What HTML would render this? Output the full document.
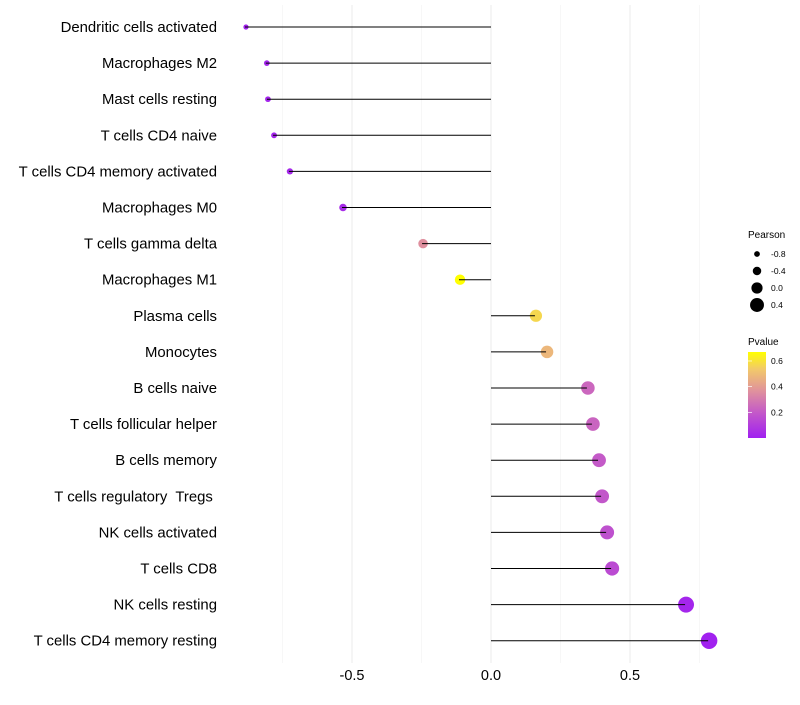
<!DOCTYPE html>
<html><head><meta charset="utf-8"><style>
body{margin:0;background:#fff;}
svg{font-family:"Liberation Sans",sans-serif;}
</style></head><body>
<svg id="chart" width="800" height="700" xmlns="http://www.w3.org/2000/svg">
<rect width="800" height="700" fill="#fff"/>
<g id="grid"></g><g id="marks"></g><g id="ylabels"></g><g id="xticks"></g>
<g id="legend">
<text x="748" y="238" font-size="10" fill="#000">Pearson</text>
<g id="sizeLegend"></g>
<text x="748" y="345" font-size="10" fill="#000">Pvalue</text>
<defs><linearGradient id="pg" x1="0" y1="1" x2="0" y2="0">
<stop offset="0" stop-color="#A020F0"/><stop offset="0.3" stop-color="#C45AC8"/><stop offset="0.55" stop-color="#E0929C"/><stop offset="0.8" stop-color="#F2C96A"/><stop offset="1" stop-color="#FFFF00"/></linearGradient></defs>
<rect x="748" y="352" width="18" height="86" fill="url(#pg)"/>
<g id="colorTicks"></g>
</g>
</svg>
<script>
const categories=["Dendritic cells activated","Macrophages M2","Mast cells resting","T cells CD4 naive","T cells CD4 memory activated","Macrophages M0","T cells gamma delta","Macrophages M1","Plasma cells","Monocytes","B cells naive","T cells follicular helper","B cells memory","T cells regulatory  Tregs ","NK cells activated","T cells CD8","NK cells resting","T cells CD4 memory resting"];
const pearson=[-0.885,-0.81,-0.806,-0.784,-0.727,-0.536,-0.248,-0.115,0.158,0.198,0.345,0.363,0.385,0.396,0.414,0.432,0.698,0.781];
const pvalue=[0.01,0.02,0.02,0.02,0.03,0.04,0.36,0.67,0.57,0.48,0.24,0.23,0.2,0.19,0.17,0.15,0.02,0.005];
const xTicks=[-0.5,0,0.5];
const xMinor=[-0.75,-0.25,0.25,0.75];
const sizeBreaks=[-0.8,-0.4,0.0,0.4];
const pTicks=[0.2,0.4,0.6];

const NS="http://www.w3.org/2000/svg";
const x=v=>491+v*278;
const y=i=>27+i*36.1;
const r=v=>5.6+v*3.4;
const stops=[[0,[160,32,240]],[0.3,[196,90,200]],[0.55,[224,146,156]],[0.8,[242,201,106]],[1,[255,255,0]]];
function col(p){let t=Math.max(0,Math.min(1,p/0.67));for(let k=1;k<stops.length;k++){if(t<=stops[k][0]){const a=stops[k-1],b=stops[k];const f=(t-a[0])/(b[0]-a[0]);const c=a[1].map((v,j)=>Math.round(v+(b[1][j]-v)*f));return `rgb(${c})`;}}return "rgb(255,255,0)";}
function mk(tag,attrs,parent){const e=document.createElementNS(NS,tag);for(const k in attrs)e.setAttribute(k,attrs[k]);document.getElementById(parent).appendChild(e);return e;}
xMinor.forEach(v=>{const l=mk("line",{x1:x(v),x2:x(v),y1:5,y2:663,stroke:"#f2f2f2","stroke-width":0.6},"grid");

});
xTicks.forEach(v=>{const l=mk("line",{x1:x(v),x2:x(v),y1:5,y2:663,stroke:"#ebebeb","stroke-width":1},"grid");


const t=mk("text",{x:x(v),y:680,"font-size":14.5,"text-anchor":"middle",fill:"#000"},"xticks");t.textContent=v===0?"0.0":v.toFixed(1);

});
categories.forEach((c,i)=>{
const cc=mk("circle",{cx:x(pearson[i])+1,cy:y(i),r:r(pearson[i]),fill:col(pvalue[i])},"marks");


const l=mk("line",{x1:x(0),x2:x(pearson[i]),y1:y(i),y2:y(i),stroke:"#000","stroke-width":1},"marks");


const t=mk("text",{x:217,y:y(i)+5,"font-size":14.9,"text-anchor":"end",fill:"#000"},"ylabels");t.textContent=c;


t.setAttribute('xml:space','preserve');t.style.whiteSpace='pre';
});
sizeBreaks.forEach((v,i)=>{const yy=254+i*17;
const c=mk("circle",{cx:757,cy:yy,r:r(v),fill:"#000"},"sizeLegend");


const t=mk("text",{x:771,y:yy+3,"font-size":8.5,fill:"#000"},"sizeLegend");t.textContent=v.toFixed(1);

});
pTicks.forEach(p=>{const yy=438-p/0.67*86;
const l=mk("line",{x1:748,x2:752,y1:yy,y2:yy,stroke:"#fff","stroke-width":0.7},"colorTicks");


const t=mk("text",{x:771,y:yy+3,"font-size":8.5,fill:"#000"},"colorTicks");t.textContent=p.toFixed(1);

});
</script>
</body></html>
